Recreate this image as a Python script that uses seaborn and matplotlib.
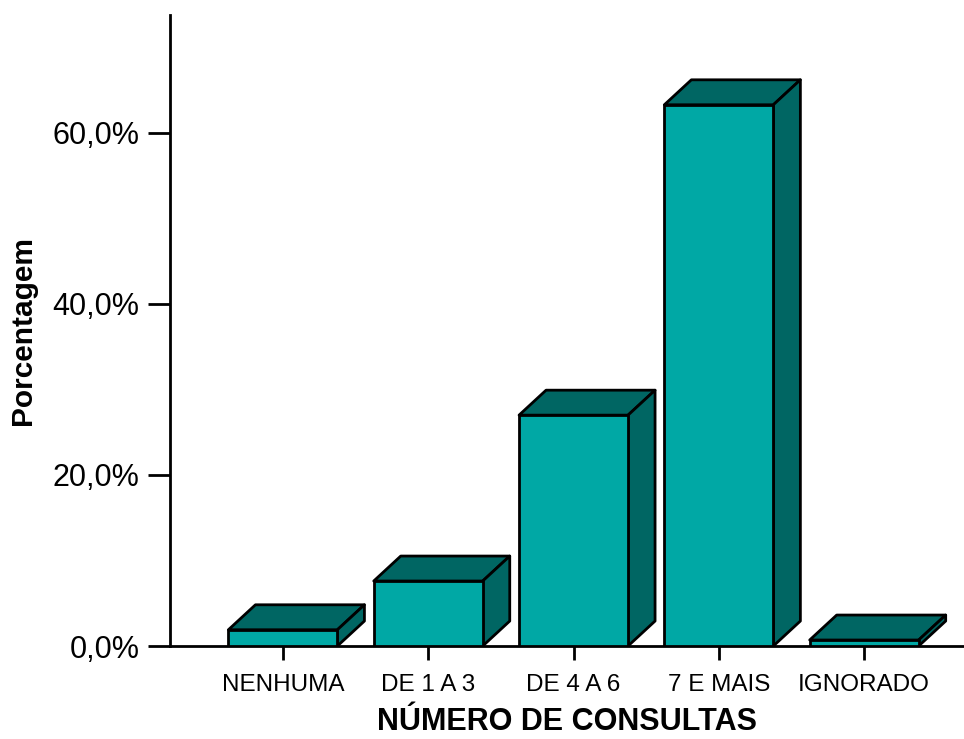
import matplotlib
matplotlib.use('Agg')
import matplotlib.pyplot as plt
import seaborn as sns
import pandas as pd
from matplotlib.ticker import FuncFormatter

# data
categorias = ['NENHUMA', 'DE 1 A 3', 'DE 4 A 6', '7 E MAIS', 'IGNORADO']
porcentagem = [0.019, 0.076, 0.270, 0.633, 0.007]

df = pd.DataFrame({'cat': categorias, 'pct': porcentagem})

sns.set_style('white')
plt.rcParams['font.family'] = ['Liberation Sans', 'DejaVu Sans']
plt.rcParams['text.color'] = 'black'
plt.rcParams['axes.labelcolor'] = 'black'
plt.rcParams['xtick.color'] = 'black'
plt.rcParams['ytick.color'] = 'black'

frente = '#00A8A5'
escuro = '#006663'

fig = plt.figure(figsize=(9.64, 7.39), dpi=100)
ax = fig.add_axes([170/964, 1 - 646/739, 794/964, 631/739])

sns.barplot(data=df, x='cat', y='pct', color=frente, width=0.75,
            edgecolor='black', linewidth=2, saturation=1, ax=ax, zorder=3)

# 3D look: top and side faces
dx, dy = 0.186, 0.0292
for p in ax.patches:
    x0 = p.get_x()
    w = p.get_width()
    h = p.get_height()
    x1 = x0 + w
    ax.fill([x0, x0 + dx, x1 + dx, x1], [h, h + dy, h + dy, h],
            facecolor=escuro, edgecolor='black', linewidth=2, zorder=2, joinstyle='round')
    ax.fill([x1, x1 + dx, x1 + dx, x1], [0, dy, h + dy, h],
            facecolor=escuro, edgecolor='black', linewidth=2, zorder=2, joinstyle='round')

ax.set_xlim(-0.777, 4.687)
ax.set_ylim(0, 0.738)
ax.set_yticks([0, 0.2, 0.4, 0.6])
ax.yaxis.set_major_formatter(FuncFormatter(lambda v, pos: f'{v*100:.1f}%'.replace('.', ',')))

for s in ['top', 'right']:
    ax.spines[s].set_visible(False)
for s in ['left', 'bottom']:
    ax.spines[s].set_linewidth(2)
    ax.spines[s].set_color('black')

ax.tick_params(axis='y', direction='out', length=16, width=2, labelsize=22, pad=6, left=True)
ax.tick_params(axis='x', direction='out', length=10, width=2, labelsize=17.5, pad=10, bottom=True)

ax.set_xlabel('NÚMERO DE CONSULTAS', fontsize=22, fontweight='bold', labelpad=8)
ax.set_ylabel('Porcentagem', fontsize=21.5, fontweight='bold', labelpad=11)

fig.savefig('out.png', dpi=100)
